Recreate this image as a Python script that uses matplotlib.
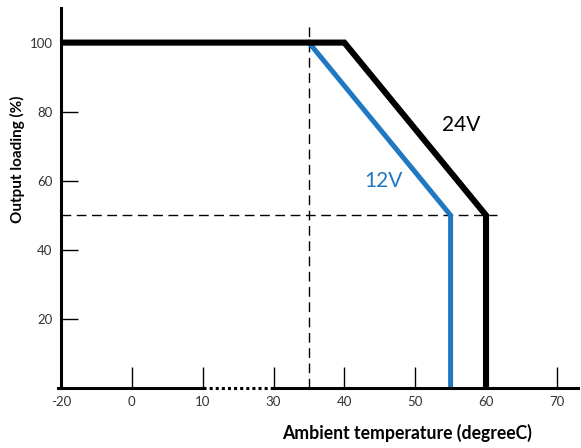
import numpy as np
import matplotlib.pyplot as plt

# derating curves
t_24v = [-20, 40, 60, 60]
load_24v = [100, 100, 50, 0]
t_12v = [35, 55, 55]
load_12v = [100, 50, 0]

x_ticks = [-20, 0, 10, 30, 40, 50, 60, 70]
y_ticks = [20, 40, 60, 80, 100]


# broken temperature axis: -20..0, 0..10 and 10..30 each get one tick step
def fwd(x):
    x = np.asarray(x, dtype=float)
    return np.where(x < 0, x / 20.0,
           np.where(x < 10, x / 10.0,
           np.where(x < 30, 1 + (x - 10) / 20.0, 2 + (x - 30) / 10.0)))


def inv(p):
    p = np.asarray(p, dtype=float)
    return np.where(p < 0, p * 20.0,
           np.where(p < 1, p * 10.0,
           np.where(p < 2, 10 + (p - 1) * 20.0, 30 + (p - 2) * 10.0)))


plt.rcParams['font.family'] = ['Lato', 'DejaVu Sans']
fig = plt.figure(figsize=(5.81, 4.48), dpi=100)
ax = fig.add_axes([0.105, 0.134, 0.89, 0.848])
ax.set_xscale('function', functions=(fwd, inv))
ax.set_xlim(-20, 73)
ax.set_ylim(0, 110)

# guide lines
ax.plot([35, 35], [0, 105], color='black', lw=1, ls=(0, (7, 4)), zorder=1)
ax.plot([-20, 61.5], [50, 50], color='black', lw=1, ls=(0, (7, 4)), zorder=1)

ax.plot(t_12v, load_12v, color='#1f78c1', lw=3.6, solid_joinstyle='miter', zorder=2)
ax.plot(t_24v, load_24v, color='black', lw=4.4, solid_joinstyle='miter', zorder=3)

ax.text(56.5, 76, '24V', fontsize=15, color='black', ha='center', va='center')
ax.text(45.5, 60, '12V', fontsize=15, color='#1f78c1', ha='center', va='center')

# axis lines, dotted across the break
for side in ['top', 'right', 'bottom']:
    ax.spines[side].set_visible(False)
ax.spines['left'].set_linewidth(2.2)
ax.plot([-20.8, 10], [0, 0], color='black', lw=2.2, clip_on=False, zorder=4)
ax.plot([10, 30], [0, 0], color='black', lw=2.2, ls=(0, (1, 1)), clip_on=False, zorder=4)
ax.plot([30, 73], [0, 0], color='black', lw=2.2, clip_on=False, zorder=4)

ax.set_xticks(x_ticks)
ax.set_xticklabels([str(v) for v in x_ticks])
ax.set_yticks(y_ticks)
ax.tick_params(axis='x', direction='in', length=15, width=1, pad=6,
               labelsize=9.5, labelcolor='#333333')
ax.tick_params(axis='y', direction='in', length=12.5, width=1, pad=6,
               labelsize=9.5, labelcolor='#333333')

fig.text(0.03, 0.645, 'Output loading (%)', rotation=90, ha='center', va='center',
         fontsize=11, fontweight='bold')
fig.text(0.70, 0.033, 'Ambient temperature (degreeC)', ha='center', va='center',
         fontsize=12.7, fontweight='bold')

plt.savefig('out.png', dpi=100)
